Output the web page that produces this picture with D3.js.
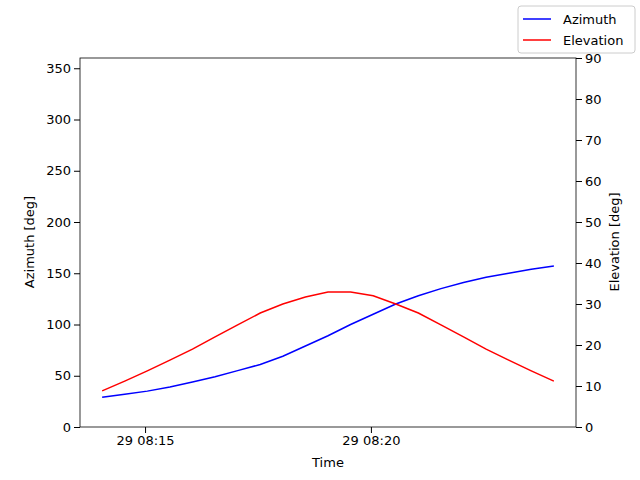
<!DOCTYPE html>
<html><head><meta charset="utf-8">
<script src="https://cdn.jsdelivr.net/npm/d3@7"></script>
<style>body{margin:0;background:#fff}text{font-family:"DejaVu Sans",sans-serif}</style>
</head><body>
<svg width="640" height="480"></svg>
<script>
// samples every 30 s starting 08:14:03
var startTime = Date.UTC(2024, 0, 29, 8, 14, 3);
var azimuth = [29,32,35,39,44,49,55,61,69,79,89,100,110,120,128,135,141,146,150,154,157];
var elevation = [8.8,11.2,13.7,16.3,19,22,24.9,27.8,30,31.7,32.9,32.9,32,30,27.8,24.9,22,19,16.3,13.7,11.2];
var times = azimuth.map(function(d, i) { return new Date(startTime + i * 30000); });
var azTicks = [0,50,100,150,200,250,300,350];
var elTicks = [0,10,20,30,40,50,60,70,80,90];

var svg = d3.select('svg');
var L = 80, R = 576, T = 58, B = 427;
var fs = 13;

var x = d3.scaleUtc()
	.domain([new Date(startTime - 30000 * 0.98), new Date(startTime + 20 * 30000 + 30000 * 0.98)])
	.range([L, R]);
var yA = d3.scaleLinear().domain([0, 360]).range([B, T]);
var yE = d3.scaleLinear().domain([0, 90]).range([B, T]);

svg.append('g').attr('transform', 'translate(0,' + B + ')')
	.call(d3.axisBottom(x)
		.tickValues([new Date(Date.UTC(2024,0,29,8,15)), new Date(Date.UTC(2024,0,29,8,20))])
		.tickFormat(d3.utcFormat('%d %H:%M')).tickSizeOuter(0));
svg.append('g').attr('transform', 'translate(' + L + ',0)')
	.call(d3.axisLeft(yA).tickValues(azTicks).tickSizeOuter(0));
svg.append('g').attr('transform', 'translate(' + R + ',0)')
	.call(d3.axisRight(yE).tickValues(elTicks).tickSizeOuter(0));
svg.selectAll('.tick text').attr('font-size', fs).attr('fill', '#000');
svg.selectAll('.domain').remove();

svg.append('rect').attr('x', L).attr('y', T).attr('width', R - L).attr('height', B - T)
	.attr('fill', 'none').attr('stroke', '#000').attr('stroke-width', 0.8);

svg.append('path').datum(azimuth)
	.attr('fill', 'none').attr('stroke', 'blue').attr('stroke-width', 1.5)
	.attr('d', d3.line().x(function(d, i) { return x(times[i]); }).y(function(d) { return yA(d); }));
svg.append('path').datum(elevation)
	.attr('fill', 'none').attr('stroke', 'red').attr('stroke-width', 1.5)
	.attr('d', d3.line().x(function(d, i) { return x(times[i]); }).y(function(d) { return yE(d); }));

svg.append('text').attr('x', 328).attr('y', 467).attr('text-anchor', 'middle').attr('font-size', fs).text('Time');
svg.append('text').attr('transform', 'translate(34,242) rotate(-90)').attr('text-anchor', 'middle').attr('font-size', fs).text('Azimuth [deg]');
svg.append('text').attr('transform', 'translate(619,242) rotate(-90)').attr('text-anchor', 'middle').attr('font-size', fs).text('Elevation [deg]');

var lg = svg.append('g');
lg.append('rect').attr('x', 518).attr('y', 6).attr('width', 117).attr('height', 47).attr('rx', 3)
	.attr('fill', '#fff').attr('stroke', '#ccc');
[['Azimuth', 'blue'], ['Elevation', 'red']].forEach(function(s, i) {
	var yy = 19 + i * 21;
	lg.append('line').attr('x1', 523).attr('x2', 551).attr('y1', yy).attr('y2', yy)
		.attr('stroke', s[1]).attr('stroke-width', 1.5);
	lg.append('text').attr('x', 563).attr('y', yy + 4.5).attr('font-size', fs).text(s[0]);
});
</script>
</body></html>
